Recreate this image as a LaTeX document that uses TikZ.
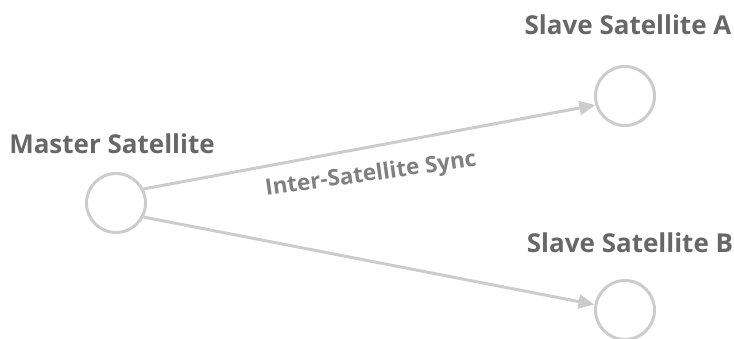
\documentclass[tikz,border=0pt]{standalone}
\usepackage{fontspec}
\setmainfont{Open Sans}
\usetikzlibrary{arrows.meta}
\definecolor{ringgray}{HTML}{CCCCCC}
\definecolor{labelgray}{HTML}{676767}
\definecolor{syncgray}{HTML}{808080}
\begin{document}
\begin{tikzpicture}[x=1pt,y=1pt,
		sat/.style={circle,draw=ringgray,line width=3pt,minimum size=59pt,inner sep=0pt},
		satlabel/.style={anchor=base,text=labelgray,font=\fontsize{26}{30}\selectfont\bfseries},
		link/.style={draw=ringgray,line width=3pt,-{Triangle[length=16pt,width=14pt]}}]
		\useasboundingbox (0,0) rectangle (734,338);
		\clip (0,0) rectangle (734,338);
		% satellites
		\node[sat] (master) at (116,135) {};
		\node[sat] (slaveA) at (625,242) {};
		\node[sat] (slaveB) at (625,28) {};
		% labels
		\node[satlabel] (masterlabel) at (112,185) {Master Satellite};
		\node[satlabel] (slaveAlabel) at (628,303) {Slave Satellite A};
		\node[satlabel] (slaveBlabel) at (630,86) {Slave Satellite B};
		% links
		\draw[link] (master.27) -- (slaveA.197);
		\draw[link] (master.333) -- (slaveB.170);
		\node[rotate=8,text=syncgray,font=\fontsize{22.5}{26}\selectfont\bfseries] (synclabel) at (371,163) {Inter-Satellite Sync};
	\end{tikzpicture}
\end{document}
